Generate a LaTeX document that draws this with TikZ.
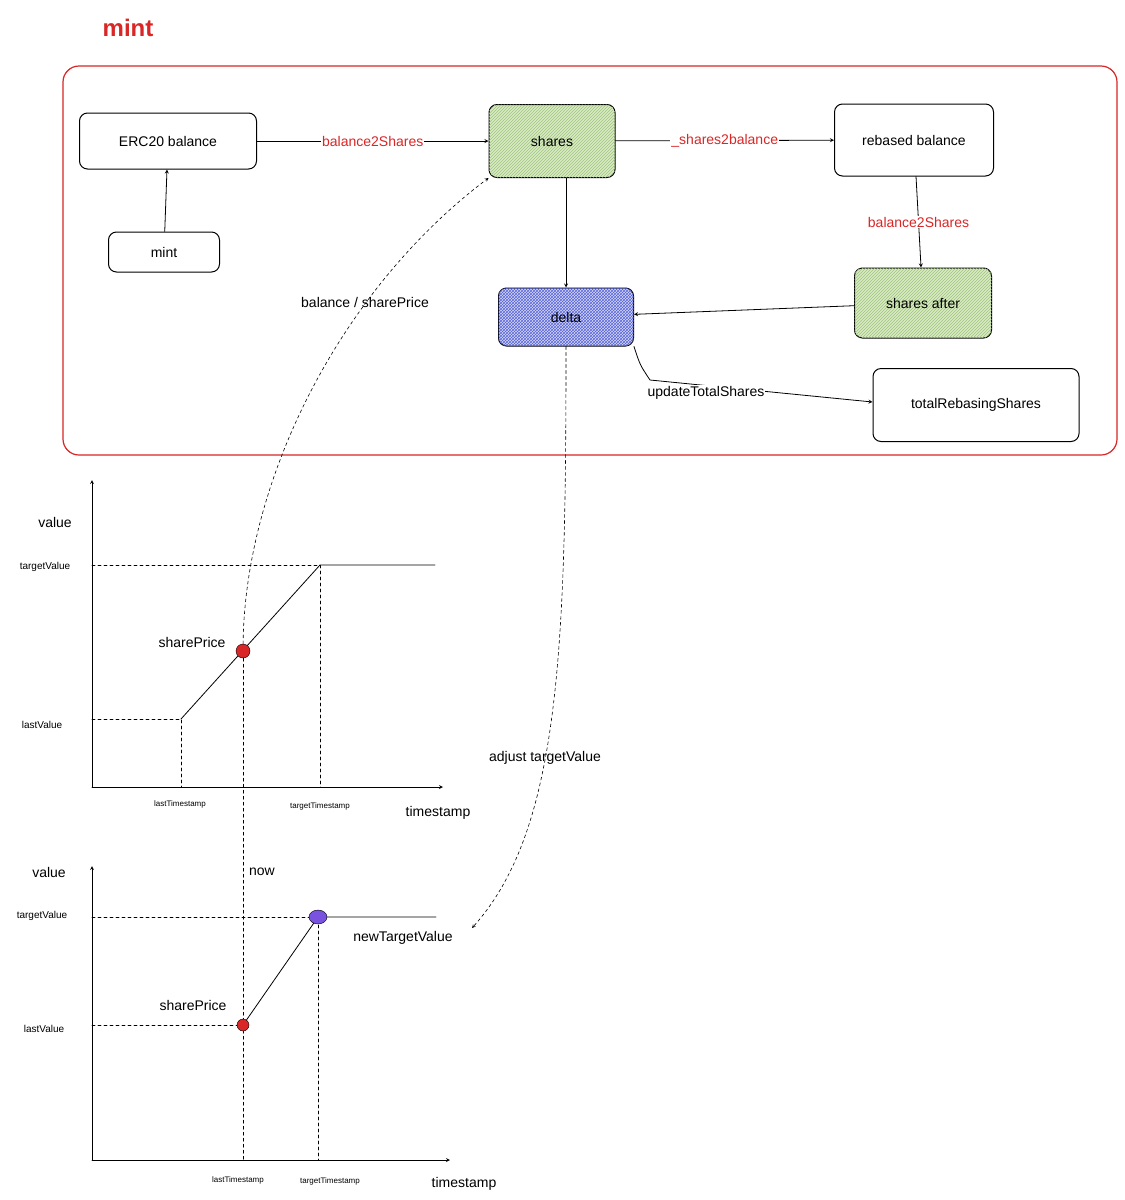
\documentclass[tikz,border=0pt]{standalone}
\usepackage{fontspec}
\setmainfont{Liberation Sans}
\usetikzlibrary{arrows,patterns,shapes.geometric}
\definecolor{mintred}{rgb}{0.85,0.15,0.15}
\definecolor{sharegreen}{rgb}{0.70,0.85,0.55}
\definecolor{deltablue}{rgb}{0.35,0.40,0.85}
\tikzset{
  box/.style={draw,rounded corners=8pt,line width=1pt,align=center,font=\fontsize{14}{17}\selectfont},
  green box/.style={box,fill=sharegreen!50,postaction={pattern=north east lines,pattern color=sharegreen!90!black}},
  blue box/.style={box,fill=deltablue!25,postaction={pattern=crosshatch,pattern color=deltablue}},
  flow/.style={->,>=stealth,line width=0.8pt},
  redlbl/.style={text=mintred,font=\fontsize{14}{17}\selectfont},
  lbl/.style={font=\fontsize{14}{17}\selectfont},
  small/.style={font=\fontsize{10}{12}\selectfont},
  guide/.style={dashed,line width=0.6pt},
  axis/.style={->,>=stealth,line width=0.8pt}
}
\begin{document}
\begin{tikzpicture}[x=1pt,y=-1pt,line cap=round,line join=round]
\useasboundingbox[fill=white] (0,0) rectangle (1125,1200);
% frame
\node[text=mintred,font=\bfseries\fontsize{24}{28}\selectfont] (title) at (128,28) {mint};
\draw[mintred,line width=1.2pt,rounded corners=16pt] (63,66) rectangle (1117,455);
% nodes
\node[box,minimum width=177pt,minimum height=56pt] (erc) at (168,141) {ERC20 balance};
\node[box,minimum width=111pt,minimum height=40pt] (mint) at (164,252) {mint};
\node[green box,minimum width=126pt,minimum height=73pt] (shares) at (552,141) {shares};
\node[box,minimum width=159pt,minimum height=72pt] (rebased) at (914,140) {rebased balance};
\node[green box,minimum width=137pt,minimum height=70pt] (after) at (923,303) {shares after};
\node[blue box,minimum width=135pt,minimum height=58pt] (delta) at (566,317) {delta};
\node[box,minimum width=206pt,minimum height=73pt] (total) at (976,405) {totalRebasingShares};
% connectors
\draw[flow] (mint) -- (erc);
\draw[flow] (erc) -- node[redlbl,fill=white,inner sep=1pt] {balance2Shares} (shares);
\draw[flow] (shares) -- node[redlbl,fill=white,inner sep=1pt] {\_shares2balance} (rebased);
\draw[flow] (rebased) -- node[redlbl,fill=white,inner sep=1pt] {balance2Shares} (after);
\draw[flow] (delta.north |- shares.south) -- (delta.north);
\draw[flow] (after) -- (delta);
\coordinate (bend) at (650,380);
\draw[flow] (delta.south east) .. controls (640,365) .. (bend) -- (total.west |- 0,402);
\node[lbl,fill=white,inner sep=1pt] (upd) at (706,393) {updateTotalShares};
% chart 1
\coordinate (o1) at (92,787);
\draw[axis] (o1) -- (92,480);
\draw[axis] (o1) -- (443,787);
\coordinate (lv1) at (181,719);
\coordinate (tv1) at (320,565);
\draw[line width=0.8pt] (lv1) -- (tv1) -- (435,565);
\draw[guide] (92,565) -- (tv1) -- (320,787);
\draw[guide] (92,719) -- (lv1) -- (181,787);
\node[circle,fill=mintred,draw=black,inner sep=0pt,minimum width=11pt,minimum height=14pt] (sp1) at (243,651) {};
\node[lbl] (v1) at (55,522) {value};
\node[small] (t1) at (45,567) {targetValue};
\node[small] (l1) at (42,725) {lastValue};
\node[lbl] (s1) at (192,642) {sharePrice};
\node[font=\fontsize{8}{10}\selectfont] (lt1) at (180,804) {lastTimestamp};
\node[font=\fontsize{8}{10}\selectfont] (tt1) at (320,806) {targetTimestamp};
\node[lbl] (ts1) at (438,813) {timestamp};
% chart 2
\coordinate (o2) at (92,1160);
\draw[axis] (o2) -- (92,866);
\draw[axis] (o2) -- (450,1160);
\coordinate (lv2) at (243,1025);
\coordinate (tv2) at (318,917);
\draw[line width=0.8pt] (lv2) -- (tv2) -- (436,917);
\draw[guide] (92,917) -- (tv2) -- (318,1160);
\draw[guide] (92,1025) -- (lv2);
\draw[guide] (sp1) -- (243,1160);
\node[circle,fill=mintred,draw=black,inner sep=0pt,minimum width=9pt,minimum height=12pt] (sp2) at (lv2) {};
\node[ellipse,fill=deltablue!80!magenta,draw=black,inner sep=0pt,minimum width=18pt,minimum height=14pt] (nt) at (tv2) {};
\node[lbl] (v2) at (49,872) {value};
\node[small] (t2) at (42,916) {targetValue};
\node[small] (l2) at (44,1029) {lastValue};
\node[lbl] (s2) at (193,1005) {sharePrice};
\node[font=\fontsize{8}{10}\selectfont] (lt2) at (238,1180) {lastTimestamp};
\node[font=\fontsize{8}{10}\selectfont] (tt2) at (330,1181) {targetTimestamp};
\node[lbl] (ts2) at (464,1184) {timestamp};
\node[lbl] (now) at (262,872) {now};
\node[lbl] (ntv) at (403,938) {newTargetValue};
% dashed links
\draw[guide,->,>=stealth] (sp1) .. controls (245,480) and (340,290) .. (shares.south west);
\node[lbl] (bsp) at (365,302) {balance / sharePrice};
\draw[guide,->,>=stealth] (delta.south) .. controls (566,650) and (560,830) .. (472,928);
\node[lbl] (adj) at (545,758) {adjust targetValue};
\end{tikzpicture}
\end{document}
